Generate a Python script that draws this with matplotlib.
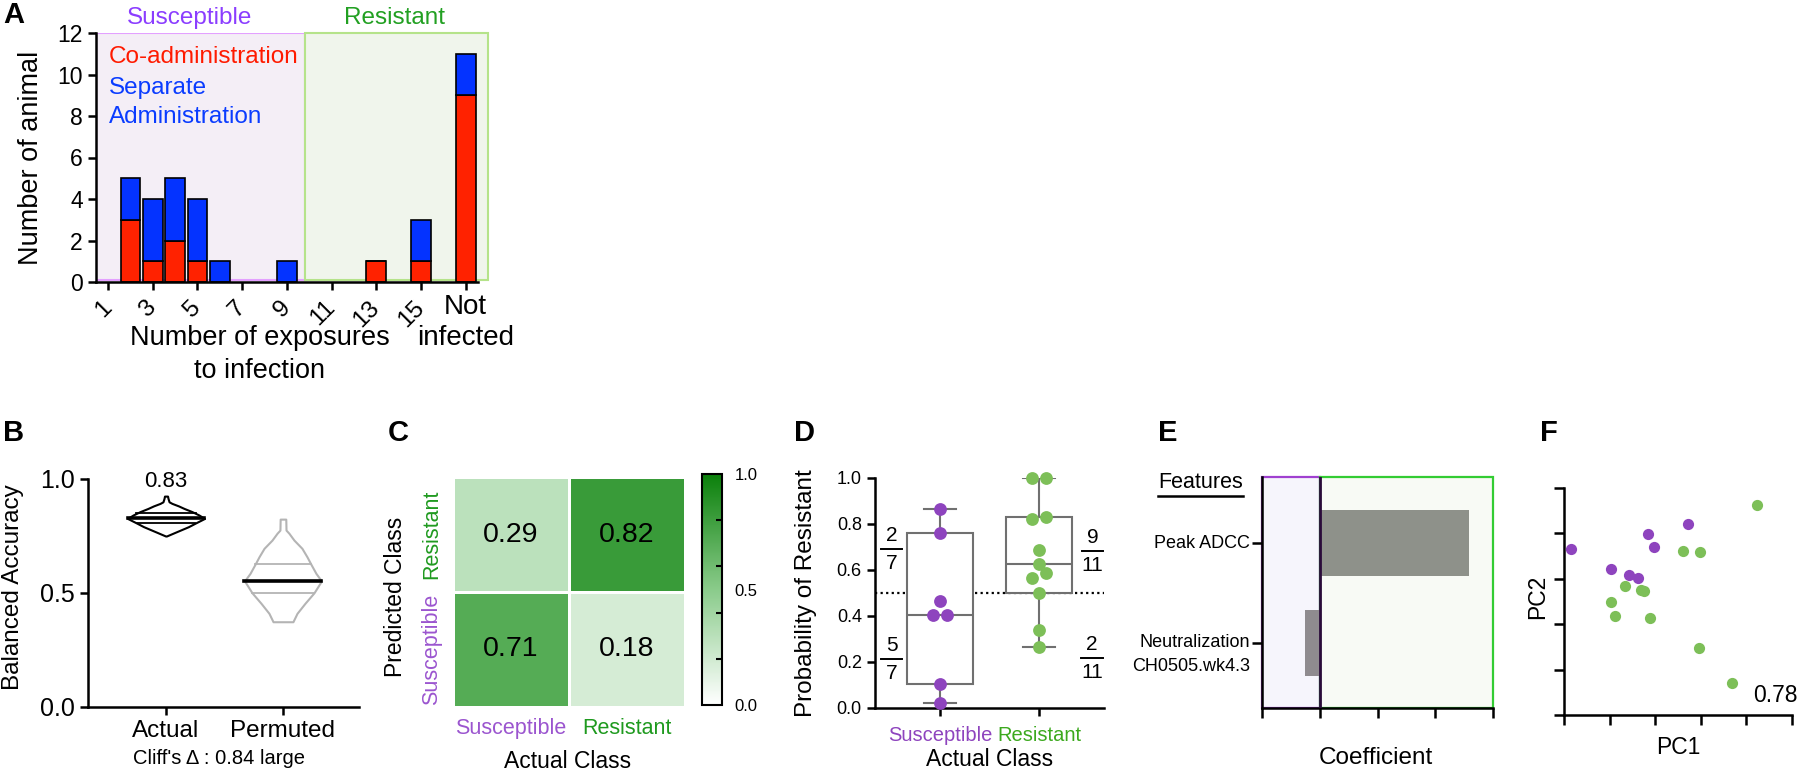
import numpy as np
import matplotlib
matplotlib.use('Agg')
import matplotlib.pyplot as plt
from matplotlib.patches import Rectangle
from matplotlib.lines import Line2D
from matplotlib.colors import LinearSegmentedColormap
from matplotlib.ticker import FixedLocator
from matplotlib.transforms import blended_transform_factory

plt.rcParams['font.family'] = ['Liberation Sans', 'DejaVu Sans']

# ---------------- data ----------------
# Panel A : stacked counts per number of exposures (17 = not infected)
exposures = [2, 3, 4, 5, 6, 9, 13, 15, 17]
coadmin = [3, 1, 2, 1, 0, 0, 1, 1, 9]
separate = [2, 3, 3, 3, 1, 1, 0, 2, 2]
a_ticks = [1, 3, 5, 7, 9, 11, 13, 15]
a_ticklabels = ['1', '3', '5', '7', '9', '11', '13', '15']
a_yticks = [0, 2, 4, 6, 8, 10, 12]
split_at = 9.79

# Panel B : violin outlines (value, half-width)
b_names = ['Actual', 'Permuted']
actual_y = [0.750, 0.766, 0.791, 0.806, 0.827, 0.842, 0.857, 0.871, 0.882, 0.893, 0.900, 0.915, 0.925]
actual_hw = [0.004, 0.077, 0.192, 0.248, 0.329, 0.282, 0.222, 0.154, 0.107, 0.051, 0.026, 0.017, 0.013]
actual_quart = [0.806, 0.849]
actual_median = 0.827
perm_y = [0.374, 0.411, 0.455, 0.501, 0.553, 0.586, 0.626, 0.659, 0.696, 0.732, 0.762, 0.776, 0.824]
perm_hw = [0.085, 0.120, 0.188, 0.265, 0.329, 0.282, 0.239, 0.205, 0.162, 0.094, 0.051, 0.026, 0.024]
perm_quart = [0.501, 0.626]
perm_median = 0.553

# Panel C : confusion matrix (rows: predicted Susceptible, Resistant; cols: actual)
classes = ['Susceptible', 'Resistant']
conf = [[0.71, 0.18],
        [0.29, 0.82]]

# Panel D : predicted probability of resistance
sus_prob = [0.865, 0.76, 0.465, 0.405, 0.405, 0.105, 0.02]
res_prob = [1.0, 1.0, 0.82, 0.832, 0.687, 0.625, 0.588, 0.567, 0.501, 0.339, 0.264]
d_yticks = [0.0, 0.2, 0.4, 0.6, 0.8, 1.0]

# Panel E : coefficients
features = ['Neutralization', 'Peak ADCC']
coefs = [-0.26, 2.58]

# Panel F : PCA scores
pc1_sus = [0.15, 1.02, 1.42, 1.62, 1.84, 1.98, 2.73]
pc2_sus = [3.66, 3.22, 3.08, 3.02, 3.98, 3.70, 4.21]
pc1_res = [4.24, 2.61, 2.98, 1.34, 1.68, 1.76, 1.04, 1.11, 1.88, 2.95, 3.68]
pc2_res = [4.62, 3.61, 3.58, 2.85, 2.76, 2.74, 2.48, 2.18, 2.14, 1.48, 0.70]

# ---------------- figure ----------------
W, H = 1800, 771
fig = plt.figure(figsize=(18, 7.71), dpi=100)


def fx(x):
    return x / W


def fy(y):
    return 1 - y / H


def add_ax(l, t, r, b):
    return fig.add_axes([fx(l), fy(b), (r - l) / W, (b - t) / H])


def ftext(x, y, s, **kw):
    kw.setdefault('ha', 'center')
    kw.setdefault('va', 'center')
    return fig.text(fx(x), fy(y), s, **kw)


def style(ax, lw=1.8):
    for s in ['top', 'right']:
        ax.spines[s].set_visible(False)
    for s in ['left', 'bottom']:
        ax.spines[s].set_linewidth(lw)
    ax.tick_params(direction='out', width=lw, length=6, color='black')


PURPLE = '#8E44BE'
GREEN_D = '#7DBF58'

# ---- panel labels
for lab, x in [('A', 14), ('B', 14), ('C', 398), ('D', 804), ('E', 1168), ('F', 1549)]:
    y = 15 if lab == 'A' else 433
    ftext(x, y, lab, fontsize=21, fontweight='bold')

# ================= Panel A =================
axA = add_ax(96, 33, 478, 282)
axA.set_xlim(0.46, 17.55)
axA.set_ylim(0, 12)
axA.add_patch(Rectangle((0.46, 0.1), split_at - 0.46, 11.9, facecolor='#F4EEF6',
                        edgecolor='#E3A0FF', lw=1.5, zorder=0))
axA.add_patch(Rectangle((split_at, 0.1), 18.0 - split_at, 11.9, facecolor='#F0F5EC',
                        edgecolor='#B5E38A', lw=1.5, zorder=0, clip_on=False))
axA.bar(exposures, coadmin, width=0.88, color='#FF2200', edgecolor='black', lw=1.2, zorder=2)
axA.bar(exposures, separate, bottom=coadmin, width=0.88, color='#0433FF',
        edgecolor='black', lw=1.2, zorder=2)
style(axA)
axA.set_yticks(a_yticks)
axA.set_yticklabels([str(v) for v in a_yticks], fontsize=16.5)
axA.set_xticks(a_ticks + [17])
axA.set_xticklabels(a_ticklabels + [''], fontsize=17.5, rotation=45, ha='right',
                    va='center', rotation_mode='anchor')
axA.tick_params(axis='x', pad=10)
tr = blended_transform_factory(axA.transData, fig.transFigure)
axA.text(17, fy(307), 'Not', transform=tr, ha='center', va='center', fontsize=20)
axA.text(17, fy(338), 'infected', transform=tr, ha='center', va='center', fontsize=20)
ftext(260, 338, 'Number of exposures', fontsize=19.5)
ftext(260, 371, 'to infection', fontsize=19.5)
ftext(31, 158, 'Number of animal', rotation=90, fontsize=19.5)
ftext(190, 18, 'Susceptible', color='#8B3DFF', fontsize=17.5)
ftext(395, 18, 'Resistant', color='#22A022', fontsize=17.5)
ftext(109, 57, 'Co-administration', color='#FF1A00', fontsize=17.5, ha='left')
ftext(109, 88, 'Separate', color='#0A3CFF', fontsize=17.5, ha='left')
ftext(109, 117, 'Administration', color='#0A3CFF', fontsize=17.5, ha='left')

# ================= Panel B =================
axB = add_ax(88, 479, 359, 707)
axB.set_xlim(-0.667, 1.65)
axB.set_ylim(0, 1)


def violin(ax, c, ys, hws, quarts, med, edge, qcolor):
    ys = np.asarray(ys)
    hws = np.asarray(hws)
    ax.fill_betweenx(ys, c - hws, c + hws, facecolor='white', edgecolor=edge, lw=1.5, zorder=2)
    for q in quarts:
        w = np.interp(q, ys, hws)
        ax.plot([c - w, c + w], [q, q], color=qcolor, lw=1.3, zorder=3)
    w = np.interp(med, ys, hws)
    ax.plot([c - w, c + w], [med, med], color='black', lw=2.6, zorder=4)


violin(axB, 0, actual_y, actual_hw, actual_quart, actual_median, 'black', 'black')
violin(axB, 1, perm_y, perm_hw, perm_quart, perm_median, '#B4B4B4', '#B4B4B4')
style(axB)
axB.set_yticks([0, 0.5, 1.0])
axB.set_yticklabels(['0.0', '0.5', '1.0'], fontsize=18)
axB.set_xticks([0, 1])
axB.set_xticklabels(b_names, fontsize=17.5)
axB.text(0, 0.987, '0.83', ha='center', va='center', fontsize=16)
ftext(219, 758, "Cliff's \u0394 : 0.84 large", fontsize=14.5)
ftext(13, 587, 'Balanced Accuracy', rotation=90, fontsize=17.5)

# ================= Panel C =================
cmap = LinearSegmentedColormap.from_list('g', [(0, '#FFFFFF'), (0.5, '#8ACB8B'), (1, '#0B800B')])
axC = add_ax(453, 477, 685, 707)
mesh = axC.pcolormesh(np.array(conf), cmap=cmap, vmin=0, vmax=1, edgecolors='white', linewidth=1)
axC.set_xlim(0, 2)
axC.set_ylim(0, 2)
for i in range(2):
    for j in range(2):
        axC.text(j + 0.5, i + 0.5, f'{conf[i][j]:.2f}', ha='center', va='center', fontsize=20.5)
for s in axC.spines.values():
    s.set_visible(False)
axC.set_xticks([0.5, 1.5])
axC.set_xticklabels(classes, fontsize=15.5)
axC.set_yticks([0.5, 1.5])
axC.set_yticklabels(classes, fontsize=15.5, rotation=90, va='center')
axC.tick_params(length=0, pad=8)
for lbl, col in zip(axC.get_xticklabels(), ['#9B55CF', '#1F9A1F']):
    lbl.set_color(col)
for lbl, col in zip(axC.get_yticklabels(), ['#9B55CF', '#1F9A1F']):
    lbl.set_color(col)
ftext(396, 597, 'Predicted Class', rotation=90, fontsize=16.5)
ftext(568, 762, 'Actual Class', fontsize=16.5)

cax = add_ax(702, 474, 722, 705)
cb = fig.colorbar(mesh, cax=cax)
cb.set_ticks([0, 0.5, 1.0])
cb.set_ticklabels(['0.0', '0.5', '1.0'])
cb.outline.set_linewidth(1.5)
cax.tick_params(which='major', length=0, labelsize=12, pad=9)
cax.yaxis.set_minor_locator(FixedLocator([0.2, 0.4, 0.6, 0.8]))
cax.tick_params(which='minor', direction='in', length=4, width=1.5, color='black', right=True)

# ================= Panel D =================
axD = add_ax(875, 478, 1104, 708)
axD.set_xlim(-0.657, 1.657)
axD.set_ylim(0, 1)
axD.axhline(0.5, color='black', ls=(0, (1, 1.5)), lw=1.6, zorder=1)


def box_stats(vals):
    q1, med, q3 = np.percentile(vals, [25, 50, 75], method='weibull')
    return dict(med=med, q1=q1, q3=q3, whislo=min(vals), whishi=max(vals), fliers=[])


axD.bxp([box_stats(sus_prob), box_stats(res_prob)], positions=[0, 1], widths=0.667,
        capwidths=0.333, patch_artist=True, showfliers=False,
        boxprops=dict(facecolor='white', edgecolor='#707070', lw=1.5),
        medianprops=dict(color='#707070', lw=1.5),
        whiskerprops=dict(color='#707070', lw=1.5),
        capprops=dict(color='#707070', lw=1.5), zorder=2)
sus_jit = [0, 0, 0, -0.07, 0.07, 0, 0]
res_jit = [-0.07, 0.07, -0.07, 0.07, 0, 0, 0.07, -0.07, 0, 0, 0]
axD.scatter(np.array(sus_jit), sus_prob, s=85, color=PURPLE, zorder=4, lw=0, clip_on=False)
axD.scatter(1 + np.array(res_jit), res_prob, s=85, color=GREEN_D, zorder=4, lw=0, clip_on=False)
style(axD)
axD.set_yticks(d_yticks)
axD.set_yticklabels([f'{v:.1f}' for v in d_yticks], fontsize=13)
axD.set_xticks([0, 1])
axD.set_xticklabels(classes, fontsize=14.5)
axD.tick_params(axis='x', pad=7)
axD.get_xticklabels()[0].set_color(PURPLE)
axD.get_xticklabels()[1].set_color('#3CA91E')
for num, den, x, ly in [('2', '7', -0.49, 0.691), ('5', '7', -0.49, 0.213),
                        ('9', '11', 1.54, 0.683), ('2', '11', 1.535, 0.217)]:
    axD.plot([x - 0.11, x + 0.11], [ly, ly], color='black', lw=1.4, clip_on=False)
    axD.text(x, ly + 0.058, num, ha='center', va='center', fontsize=15)
    axD.text(x, ly - 0.062, den, ha='center', va='center', fontsize=15)
ftext(990, 760, 'Actual Class', fontsize=16.5)
ftext(806, 593, 'Probability of Resistant', rotation=90, fontsize=17.5)

# ================= Panel E =================
axE = add_ax(1262, 477, 1493, 708)
axE.set_xlim(-1, 3)
axE.set_ylim(-0.66, 1.67)
axE.add_patch(Rectangle((-1, -0.66), 1, 2.33, facecolor='#F6F5FC', edgecolor='#A040D0',
                        lw=1.6, zorder=0, clip_on=False))
axE.add_patch(Rectangle((0, -0.66), 3, 2.33, facecolor='#F8FAF5', edgecolor='#33CC33',
                        lw=1.6, zorder=0, clip_on=False))
axE.barh([0, 1], coefs, height=0.667, color=['#8F8B8F', '#8E918A'], zorder=2)
axE.axvline(0, color='#2A0A3A', lw=2, zorder=3)
style(axE)
axE.set_xticks([-1, 0, 1, 2, 3])
axE.set_xticklabels([])
axE.set_yticks([0, 1])
axE.set_yticklabels([])
axE.tick_params(length=7)
trE = blended_transform_factory(axE.transAxes, axE.transData)
axE.text(-0.052, 1, features[1], transform=trE, ha='right', va='center', fontsize=13)
axE.text(-0.052, 0, features[0], transform=trE, ha='right', va='center', fontsize=13)
axE.text(-0.052, -0.242, 'CH0505.wk4.3', transform=trE, ha='right', va='center', fontsize=13)
feat_txt = ftext(1158, 482, 'Features', ha='left', fontsize=15.5)
fig.canvas.draw()
bb = feat_txt.get_window_extent().transformed(fig.transFigure.inverted())
fig.add_artist(Line2D([bb.x0, bb.x1], [bb.y0 - 0.004, bb.y0 - 0.004], color='black', lw=1.8))
ftext(1376, 758, 'Coefficient', fontsize=17.5)

# ================= Panel F =================
axF = add_ax(1564, 488, 1792, 715)
axF.set_xlim(0, 5)
axF.set_ylim(0, 5)
axF.scatter(pc1_sus, pc2_sus, s=65, color=PURPLE, lw=0, zorder=3, clip_on=False)
axF.scatter(pc1_res, pc2_res, s=65, color=GREEN_D, lw=0, zorder=3, clip_on=False)
style(axF)
axF.set_xticks(range(6))
axF.set_yticks(range(6))
axF.set_xticklabels([])
axF.set_yticklabels([])
axF.tick_params(length=7)
ftext(1678, 748, 'PC1', fontsize=16.5)
ftext(1538, 597, 'PC2', rotation=90, fontsize=16.5)
ftext(1798, 696, '0.78', ha='right', fontsize=16.5)

fig.savefig('out.png', dpi=100)
